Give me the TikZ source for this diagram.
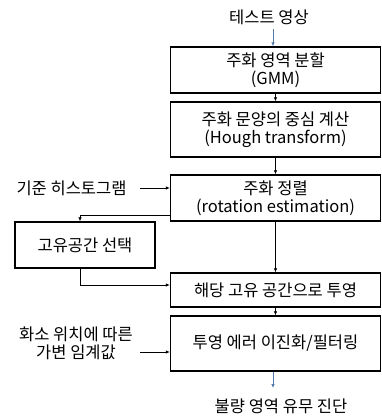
\documentclass[tikz,border=0pt]{standalone}
\usepackage{fontspec}
\setmainfont{Noto Sans CJK KR}
\usetikzlibrary{arrows.meta,calc}
\begin{document}
\begin{tikzpicture}[x=1pt,y=-1pt,
  box/.style={draw,line width=1.4pt,minimum width=210pt,align=center,inner sep=0pt,font=\fontsize{16.5}{18}\selectfont},
  lbl/.style={align=center,inner sep=0pt,font=\fontsize{16.5}{17.5}\selectfont},
  conn/.style={line width=0.7pt,-{Latex[length=4pt,width=3.5pt]}},
  bconn/.style={conn,draw={rgb,255:red,80;green,120;blue,170}}]
\useasboundingbox (0,0) rectangle (382,417);
\node[lbl] (in) at (269,17) {테스트 영상};
\node[box,minimum height=46pt] (b1) at (275.5,70) {주화 영역 분할\\(GMM)};
\node[box,minimum height=55pt] (b2) at (275.5,129.5) {주화 문양의 중심 계산\\(Hough transform)};
\node[box,minimum height=46pt] (b3) at (275.5,198) {주화 정렬\\(rotation estimation)};
\node[box,minimum width=140pt,minimum height=46pt] (lb) at (85,245) {고유공간 선택};
\node[box,minimum height=34pt] (b4) at (275.5,290) {해당 고유 공간으로 투영};
\node[box,minimum height=55pt] (b5) at (275.5,343.5) {투영 에러 이진화/필터링};
\node[lbl] (hist) at (71.5,188) {기준 히스토그램};
\node[lbl] (thr) at (76,343.5) {화소 위치에 따른\\가변 임계값};
\node[lbl] (out) at (281,406) {불량 영역 유무 진단};
\coordinate (tin) at (273,29);
\coordinate (tout) at (273,388);
\draw[bconn] (tin) -- (tin |- b1.north);
\draw[conn] (b1) -- (b2);
\draw[conn] (b2) -- (b3);
\draw[conn] (b3) -- (b4);
\draw[conn] (b4) -- (b5);
\draw[bconn] (b5.south -| tout) -- (tout);
\draw[conn] (140,188) -- (b3.west |- hist.east);
\draw[conn] ($(b3.south west)+(0,-6)$) -| ($(lb.north)+(-5,0)$);
\draw[conn] ($(lb.south)+(-5,0)$) |- ($(b4.west)+(0,-5)$);
\draw[conn] (140,352) -- (b5.west |- 0,352);
\end{tikzpicture}
\end{document}
